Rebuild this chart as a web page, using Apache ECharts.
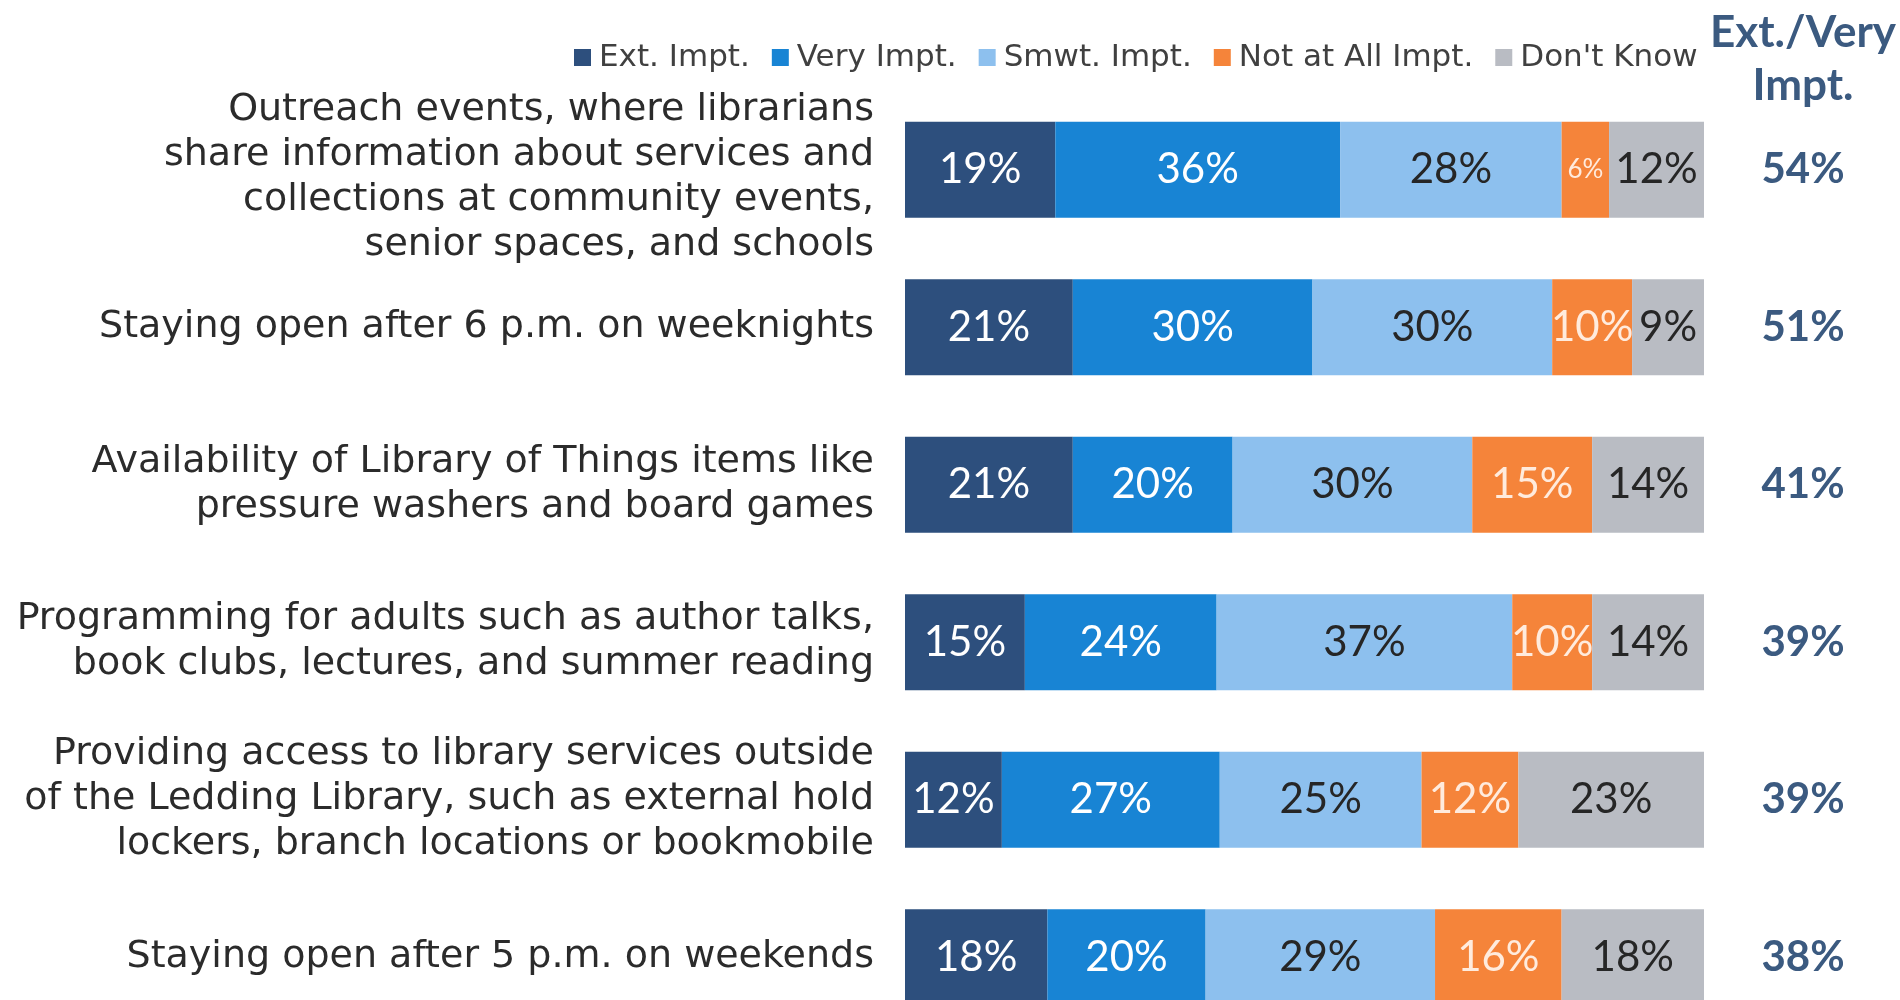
<!DOCTYPE html>
<html>
<head>
<meta charset="utf-8">
<script src="https://cdn.jsdelivr.net/npm/echarts@6/dist/echarts.min.js"></script>
<style>html,body{margin:0;padding:0;background:#fff;overflow:hidden}#c{width:1900px;height:1040px}</style>
</head>
<body>
<div id="c"></div>
<script>
const categories = [
  "Outreach events, where librarians\nshare information about services and\ncollections at community events,\nsenior spaces, and schools",
  "Staying open after 6 p.m. on weeknights",
  "Availability of Library of Things items like\npressure washers and board games",
  "Programming for adults such as author talks,\nbook clubs, lectures, and summer reading",
  "Providing access to library services outside\nof the Ledding Library, such as external hold\nlockers, branch locations or bookmobile",
  "Staying open after 5 p.m. on weekends"
];
const seriesNames = ["Ext. Impt.", "Very Impt.", "Smwt. Impt.", "Not at All Impt.", "Don't Know"];
const extImpt   = [19, 21, 21, 15, 12, 18];
const veryImpt  = [36, 30, 20, 24, 27, 20];
const smwtImpt  = [28, 30, 30, 37, 25, 29];
const notAtAll  = [6, 10, 15, 10, 12, 16];
const dontKnow  = [12, 9, 14, 14, 23, 18];
const extVery   = ["54%", "51%", "41%", "39%", "39%", "38%"];
const headerText = "Ext./Very\nImpt.";

const colors = ["#2D4F7D", "#1884D4", "#8DC0EE", "#F5843A", "#B9BCC3"];
const labelColors = ["#ffffff", "#ffffff", "#262626", "#FFEBDD", "#262626"];
const WIDE = "'DejaVu Sans', sans-serif";
const NUM = "Lato, 'Open Sans', sans-serif";

const raw = [extImpt, veryImpt, smwtImpt, notAtAll, dontKnow];
const totals = categories.map((_, i) => raw.reduce((s, arr) => s + arr[i], 0));

const series = raw.map((arr, si) => ({
  name: seriesNames[si],
  type: 'bar',
  stack: 'all',
  barWidth: 96,
  itemStyle: { color: colors[si] },
  label: {
    show: true,
    position: 'inside',
    color: labelColors[si],
    fontFamily: NUM,
    fontSize: 42,
    formatter: p => arr[p.dataIndex] + '%'
  },
  data: arr.map((v, i) => ({
    value: v / totals[i] * 100,
    label: v < 8 ? { fontSize: 26 } : undefined
  }))
}));

const chart = echarts.init(document.getElementById('c'));
chart.setOption({
  animation: false,
  backgroundColor: '#ffffff',
  legend: {
    left: 569,
    top: 37,
    icon: 'rect',
    itemWidth: 17,
    itemHeight: 17,
    itemGap: 22,
    textStyle: { fontFamily: WIDE, fontSize: 31, color: '#404040', padding: [0, 0, 0, 3] },
    data: seriesNames
  },
  grid: { left: 905, width: 799, top: 91, height: 945, containLabel: false },
  xAxis: { type: 'value', min: 0, max: 100, show: false },
  yAxis: [
    {
      type: 'category',
      inverse: true,
      data: categories,
      axisLine: { show: false },
      axisTick: { show: false },
      axisLabel: {
        fontFamily: WIDE,
        fontSize: 38,
        lineHeight: 45,
        color: '#2b2b2b',
        margin: 31,
        align: 'right',
        padding: [0, 0, 1, 0],
        formatter: (v, i) => i === 0 ? '{g| }\n' + v : v,
        rich: { g: { fontSize: 10, lineHeight: 16 } }
      }
    },
    {
      type: 'category',
      inverse: true,
      position: 'right',
      data: categories,
      axisLine: { show: false },
      axisTick: { show: false },
      axisLabel: {
        fontFamily: NUM,
        fontSize: 42,
        fontWeight: 'bold',
        color: '#3B5A80',
        align: 'center',
        margin: 99,
        formatter: (v, i) => extVery[i]
      }
    }
  ],
  graphic: [{
    type: 'text',
    x: 1803,
    y: 6,
    style: {
      text: headerText,
      align: 'center',
      font: "bold 44px " + NUM,
      fill: '#3B5A80',
      lineHeight: 53
    }
  }],
  series: series
});
</script>
</body>
</html>
